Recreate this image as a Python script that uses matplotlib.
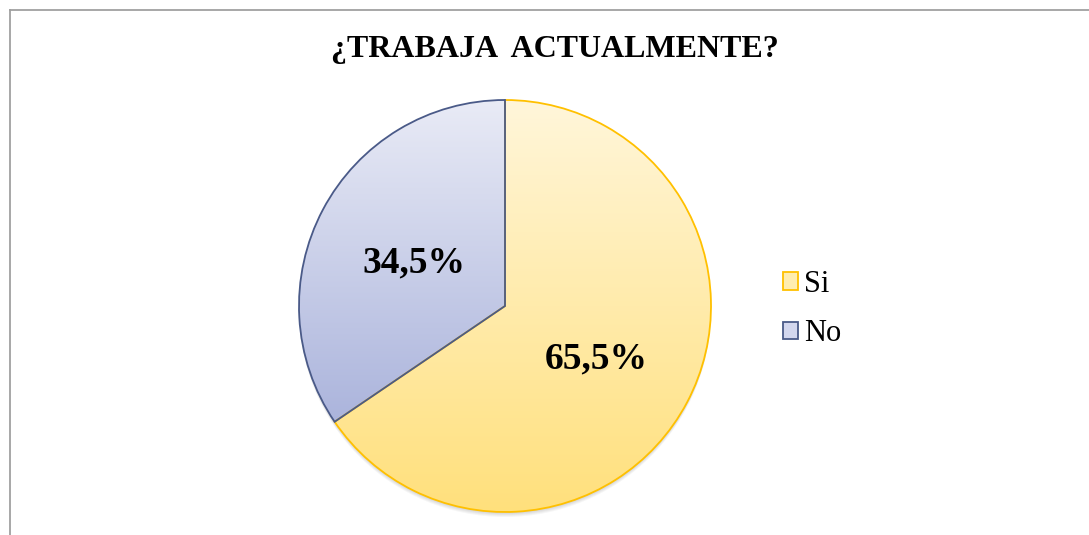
import matplotlib

matplotlib.use("Agg")
import matplotlib.pyplot as plt
from matplotlib.colors import LinearSegmentedColormap
from matplotlib.patches import Patch, Circle
import numpy as np

# --- Data ---
categories = ["Si", "No"]
percent = [65.5, 34.5]
title = "¿TRABAJA  ACTUALMENTE?"

# gradient (top, bottom) and edge colours per slice
grad_top = ["#FFF6DA", "#E9EBF6"]
grad_bottom = ["#FFE07C", "#ABB4DC"]
edge_colors = ["#FFC000", "#4A5A88"]

W, H = 1089, 535
fig = plt.figure(figsize=(W / 100, H / 100), dpi=100)
ax = fig.add_axes([0, 0, 1, 1])
ax.set_axis_off()

# pie geometry in pixel units (y measured upward)
cx, cy, r = 505, H - 306, 206

# soft shadow under the pie (visible only below)
for k in range(1, 6):
    ax.add_patch(Circle((cx, cy - k), r, facecolor="#000000",
                        edgecolor="none", alpha=0.035, zorder=1))

wedges, _, pct_texts = ax.pie(
    percent,
    center=(cx, cy),
    radius=r,
    startangle=90,
    counterclock=False,
    autopct=lambda p: f"{p:.1f}%".replace(".", ","),
    pctdistance=0.5,
    wedgeprops=dict(linewidth=1.3, zorder=3),
    textprops=dict(fontsize=27, fontweight="bold", family="Liberation Serif", color="black"),
)

for w, top, bot, ec in zip(wedges, grad_top, grad_bottom, edge_colors):
    w.set_facecolor("none")
    w.set_edgecolor(ec)
    ext = w.get_path().get_extents()
    cmap = LinearSegmentedColormap.from_list("g", [top, bot])
    grad = np.linspace(0, 1, 256).reshape(-1, 1)
    im = ax.imshow(
        grad,
        cmap=cmap,
        aspect="auto",
        extent=[ext.x0, ext.x1, ext.y0, ext.y1],
        origin="upper",
        zorder=2,
    )
    im.set_clip_path(w)

for t in pct_texts:
    t.set_zorder(5)
    x, y = t.get_position()
    t.set_position((x, y - 5))

# frame (left and top only visible)
ax.plot([10, 10], [0, H - 10], color="#A0A0A0", lw=1.3, zorder=1)
ax.plot([10, W], [H - 10, H - 10], color="#A0A0A0", lw=1.3, zorder=1)

ax.text(555, H - 49, title, ha="center", va="center", fontsize=23,
        fontweight="bold", family="Liberation Serif")

handles = [
    Patch(facecolor="#FFEDB0", edgecolor=edge_colors[0], linewidth=1.3),
    Patch(facecolor="#D3D7EE", edgecolor=edge_colors[1], linewidth=1.3),
]
ax.legend(
    handles, categories,
    loc="center left",
    bbox_to_anchor=(783, H - 309),
    bbox_transform=ax.transData,
    frameon=False,
    prop=dict(family="Liberation Serif", size=22),
    handlelength=0.5, handleheight=0.5,
    handletextpad=0.2, labelspacing=0.67,
    borderaxespad=0, borderpad=0,
)

ax.set_xlim(0, W)
ax.set_ylim(0, H)
ax.set_aspect("equal")

fig.savefig("out.png", dpi=100)
plt.close(fig)
